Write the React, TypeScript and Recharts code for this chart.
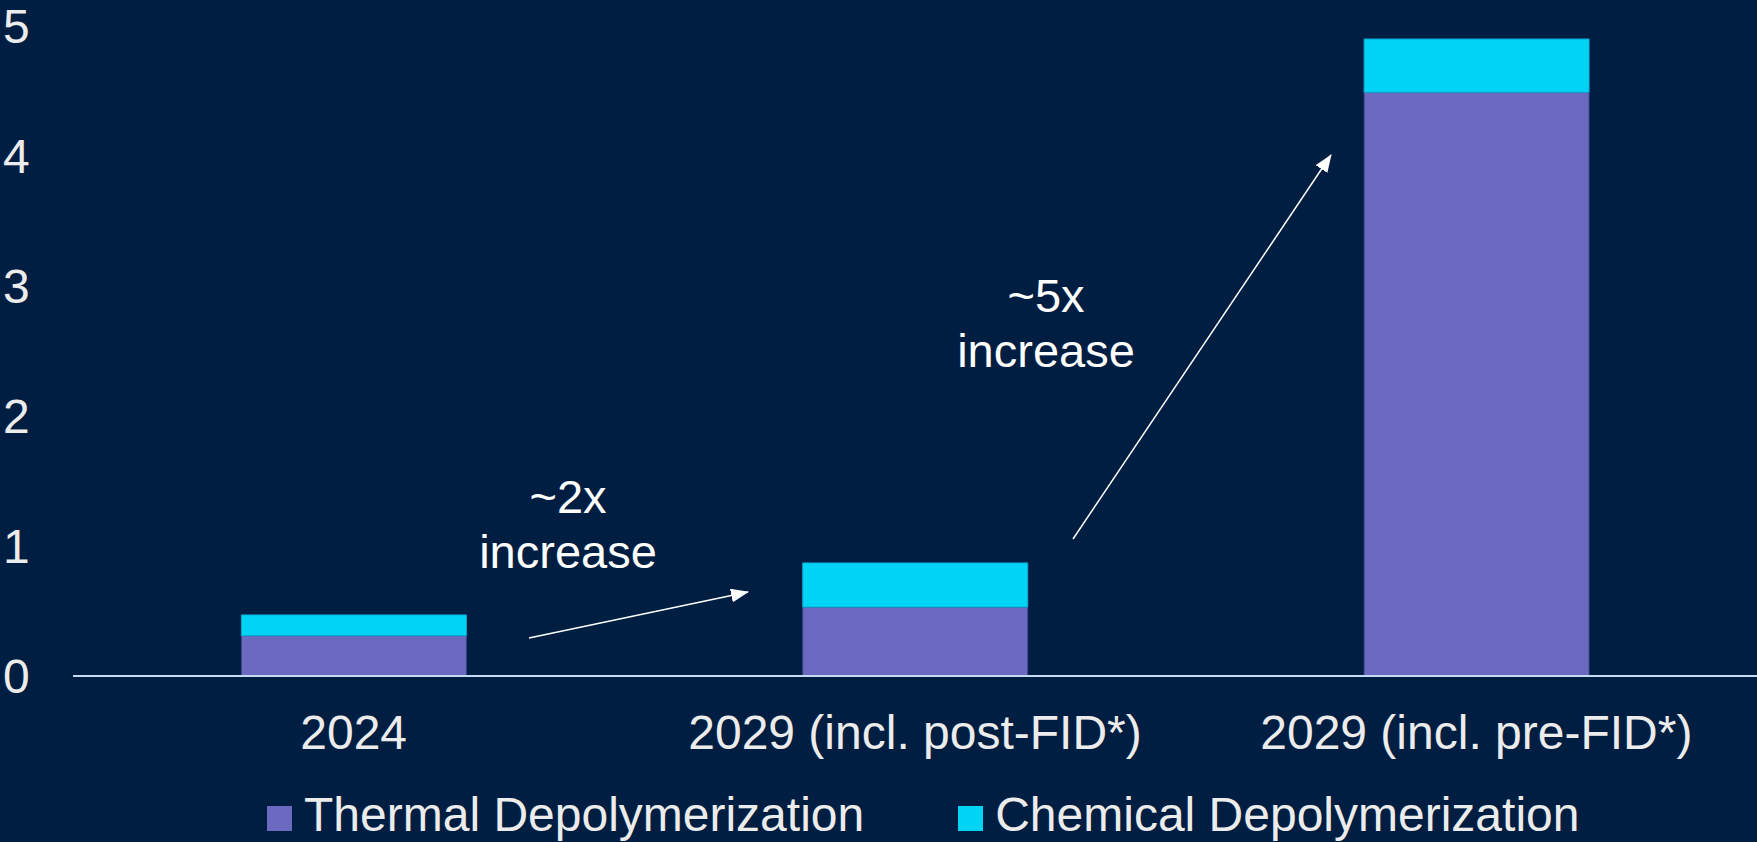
import { BarChart, Bar, XAxis, YAxis, Legend } from 'recharts';

const categories = ['2024', '2029 (incl. post-FID*)', '2029 (incl. pre-FID*)'];
const thermal = [0.31, 0.53, 4.49];
const chemical = [0.16, 0.34, 0.41];
const yTicks = [0, 1, 2, 3, 4, 5];
const seriesNames = ['Thermal Depolymerization', 'Chemical Depolymerization'];

const data = categories.map((name, i) => ({
  name,
  thermal: thermal[i],
  chemical: chemical[i],
}));

const BG = '#001E41';
const PURPLE = '#6C69C1';
const CYAN = '#00D4F5';
const TEXT = '#ECECEC';
const FONT = "Arial, 'Liberation Sans', sans-serif";

// growth call-outs drawn on top of the chart
const callouts = [
  { lines: ['~2x', 'increase'], x: 568, y: 513, from: [529, 638], to: [748, 592] },
  { lines: ['~5x', 'increase'], x: 1046, y: 312, from: [1073, 539], to: [1331, 155] },
];

const YTick = ({ y, payload }: any) => (
  <text x={3} y={y} dy="0.36em" fill={TEXT} fontSize={48} fontFamily={FONT} textAnchor="start">
    {payload.value}
  </text>
);

const XTick = ({ x, y, payload }: any) => (
  <text x={x} y={y + 73} fill={TEXT} fontSize={48} fontFamily={FONT} textAnchor="middle">
    {payload.value}
  </text>
);

const LegendContent = () => {
  const colors = [PURPLE, CYAN];
  return (
    <div style={{ display: 'flex', alignItems: 'center', paddingLeft: 267, fontFamily: FONT, fontSize: 48, color: TEXT, lineHeight: '54px' }}>
      {seriesNames.map((n, i) => (
        <div key={n} style={{ display: 'flex', alignItems: 'center', marginRight: i === 0 ? 94 : 0 }}>
          <span style={{ width: 25, height: 25, background: colors[i], marginRight: 12, position: 'relative', top: 3 }} />
          <span>{n}</span>
        </div>
      ))}
    </div>
  );
};

export default function App() {
  return (
    <div style={{ position: 'absolute', left: 0, top: 0, width: 1757, height: 842, background: BG }}>
      <BarChart
        width={1757}
        height={842}
        data={data}
        margin={{ top: 26, right: 0, bottom: 76, left: 0 }}
        barCategoryGap="30%"
      >
        <YAxis
          width={73}
          domain={[0, 5]}
          ticks={yTicks}
          axisLine={false}
          tickLine={false}
          tick={<YTick />}
        />
        <XAxis
          dataKey="name"
          height={90}
          axisLine={{ stroke: '#C3DCF2', strokeWidth: 2 }}
          tickLine={false}
          tickSize={0}
          tickMargin={0}
          tick={<XTick />}
          interval={0}
        />
        <Legend
          verticalAlign="middle"
          align="center"
          wrapperStyle={{ top: 788, left: 0, width: 1757 }}
          content={<LegendContent />}
        />
        <Bar dataKey="thermal" name={seriesNames[0]} stackId="a" fill={PURPLE} stroke="#3A4689" strokeWidth={1} isAnimationActive={false} />
        <Bar dataKey="chemical" name={seriesNames[1]} stackId="a" fill={CYAN} stroke="#0AA6D2" strokeWidth={1} isAnimationActive={false} />
      </BarChart>
      <svg width={1757} height={842} style={{ position: 'absolute', left: 0, top: 0, pointerEvents: 'none' }}>
        <defs>
          <marker id="head" markerUnits="userSpaceOnUse" markerWidth={18} markerHeight={14} refX={17} refY={7} orient="auto">
            <path d="M0,0 L18,7 L0,14 Z" fill="#FFFFFF" />
          </marker>
        </defs>
        {callouts.map((c) => (
          <g key={c.lines[0]}>
            <line x1={c.from[0]} y1={c.from[1]} x2={c.to[0]} y2={c.to[1]} stroke="#FFFFFF" strokeWidth={1.5} markerEnd="url(#head)" />
            {c.lines.map((t, i) => (
              <text key={t} x={c.x} y={c.y + i * 55} fill="#FFFFFF" fontSize={47} fontFamily={FONT} textAnchor="middle">
                {t}
              </text>
            ))}
          </g>
        ))}
      </svg>
    </div>
  );
}
